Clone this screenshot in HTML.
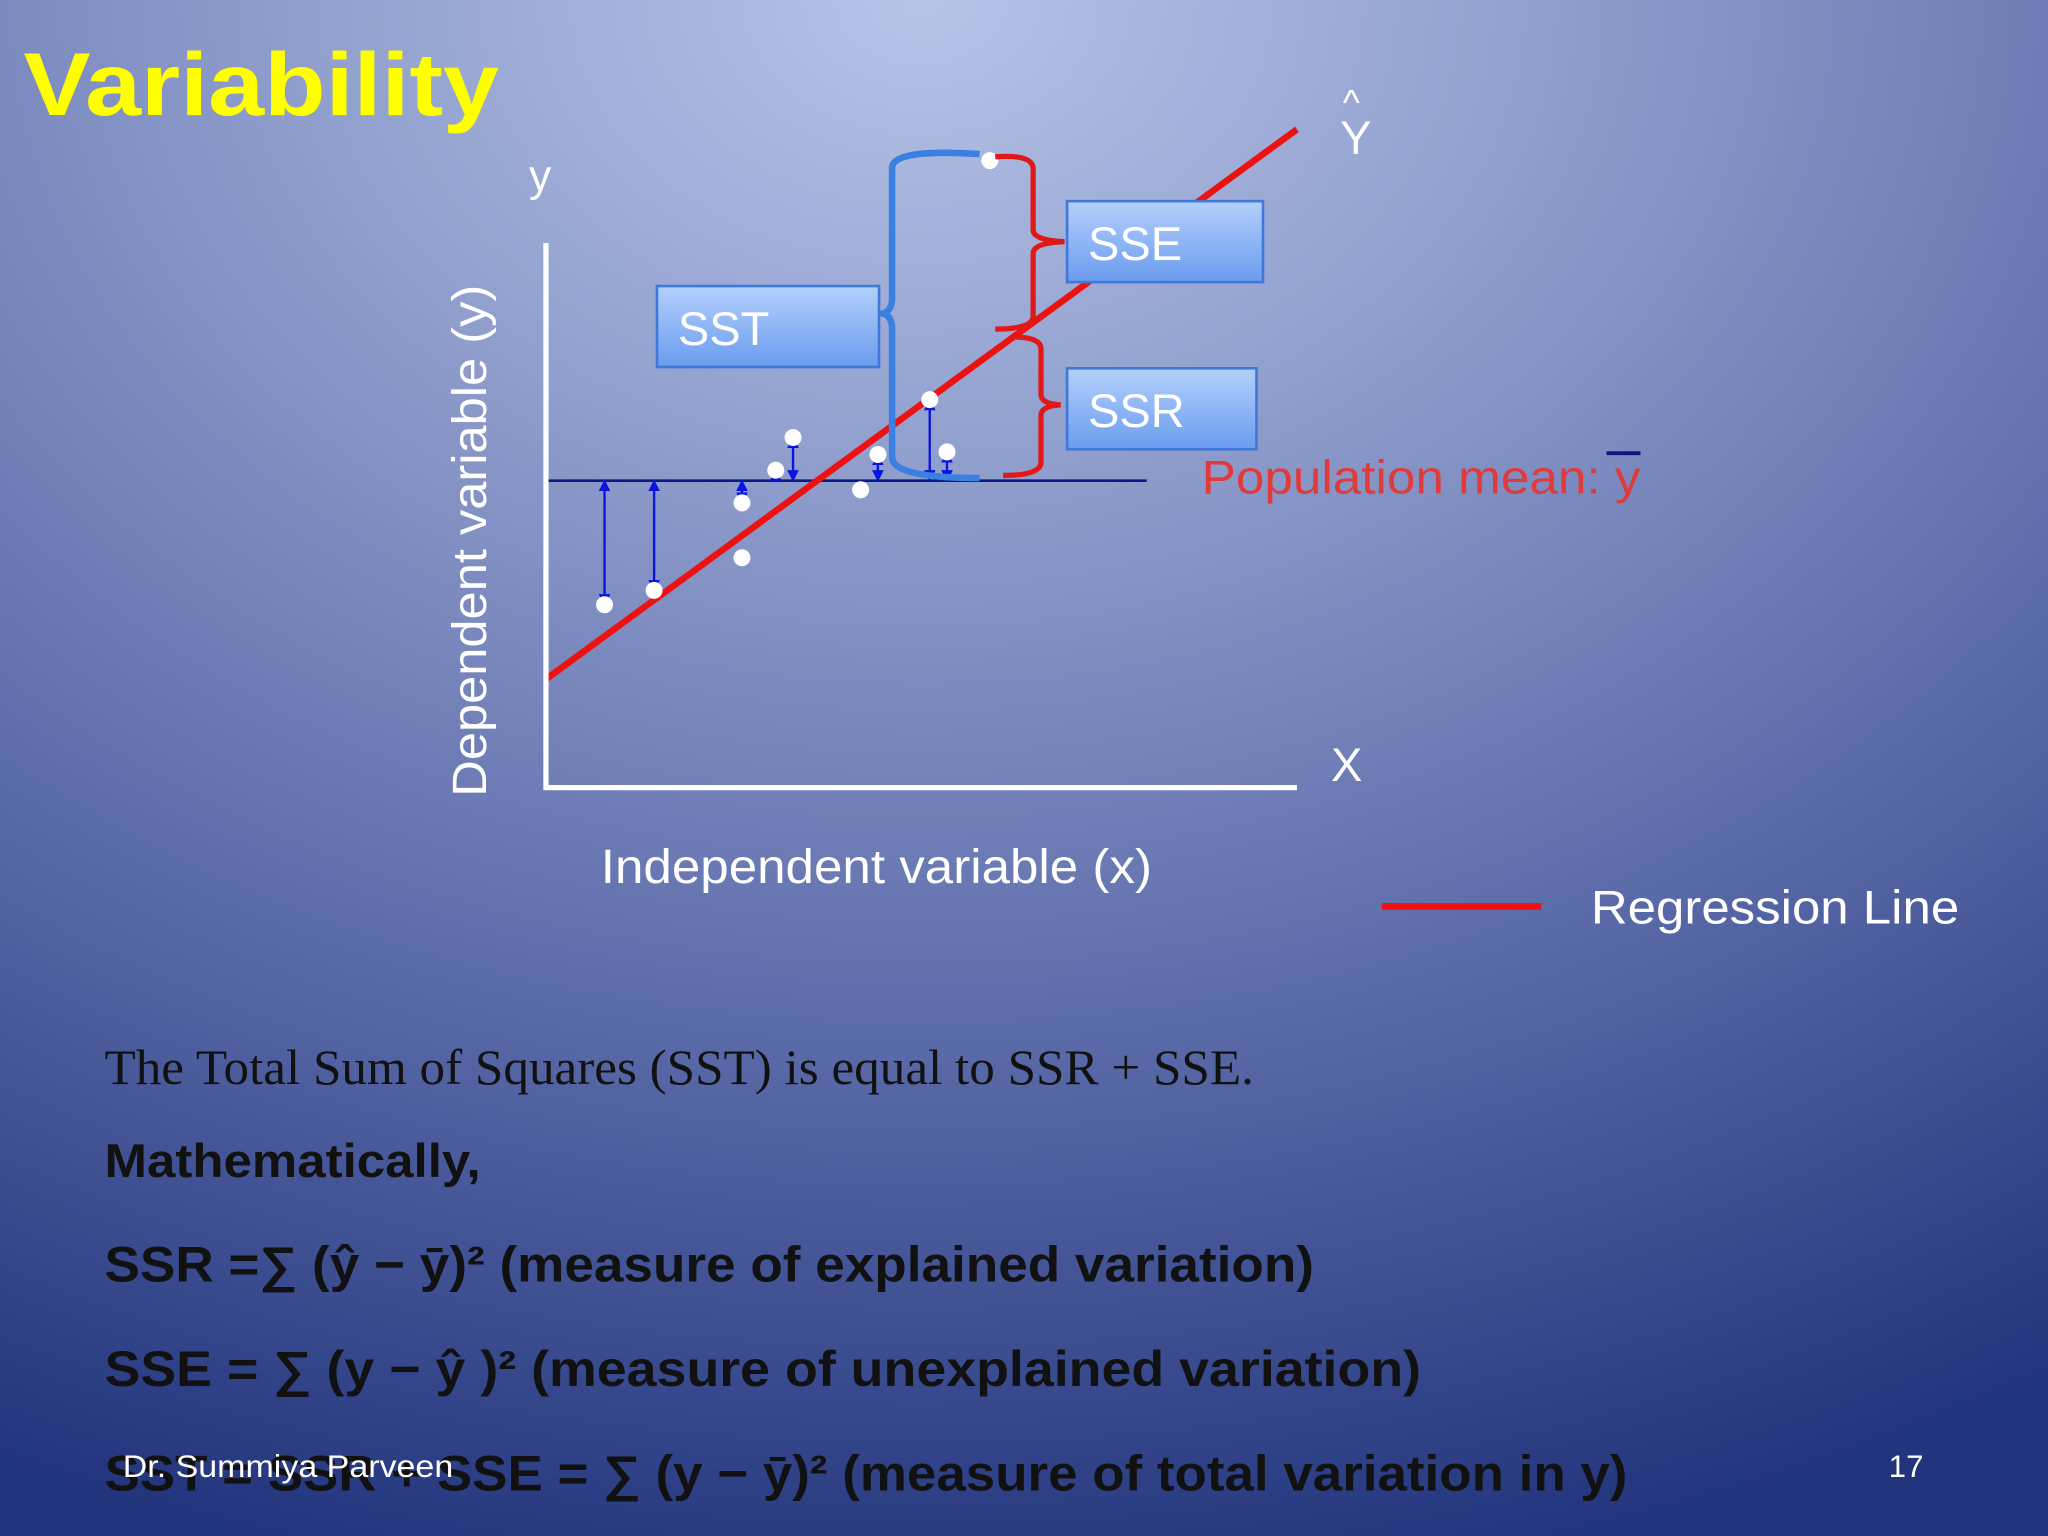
<!DOCTYPE html>
<html><head><meta charset="utf-8"><style>
html,body{margin:0;padding:0;width:2048px;height:1536px;overflow:hidden;background:#3a4e96}
svg{display:block}
text{font-family:"Liberation Sans",sans-serif}
text.serif{font-family:"Liberation Serif",serif}
</style></head><body>
<svg id="chart" width="2048" height="1536" viewBox="0 0 1568 1176" xmlns="http://www.w3.org/2000/svg">
<defs>
<radialGradient id="bg" cx="0.45" cy="0.0" r="1.05">
<stop offset="0" stop-color="#b6c4e8"/>
<stop offset="0.3" stop-color="#8f9dcc"/>
<stop offset="0.65" stop-color="#5a6aa8"/>
<stop offset="1" stop-color="#22347c"/>
</radialGradient>
<linearGradient id="box" x1="0" y1="0" x2="0" y2="1">
<stop offset="0" stop-color="#b4d0fb"/><stop offset="1" stop-color="#6a9cef"/>
</linearGradient>
<marker id="ah" viewBox="0 0 10 10" refX="9" refY="5" markerWidth="5" markerHeight="5" orient="auto-start-reverse"><path d="M0,0L10,5L0,10z" fill="#0a14e0"/></marker>
</defs>
<rect x="0" y="0" width="1568" height="1176" fill="url(#bg)"/>
<text x="18" y="88" font-size="68" font-weight="bold" fill="#ffff00" textLength="364" lengthAdjust="spacingAndGlyphs">Variability</text>

<g id="plot"></g>

<text x="405" y="146" font-size="34" fill="#fff">y</text>
<text transform="translate(372,414) rotate(-90)" text-anchor="middle" font-size="37" fill="#fff" textLength="392" lengthAdjust="spacingAndGlyphs">Dependent variable (y)</text>
<text x="460" y="676" font-size="37" fill="#fff" textLength="422" lengthAdjust="spacingAndGlyphs">Independent variable (x)</text>
<text x="1019" y="598" font-size="36" fill="#fff">X</text>
<text x="1028" y="88" font-size="28" fill="#fff">^</text>
<text x="1026" y="118" font-size="36" fill="#fff">Y</text>
<text x="920" y="378" font-size="36" fill="#e03a3a" textLength="336" lengthAdjust="spacingAndGlyphs">Population mean: y</text>
<line x1="1230" y1="347" x2="1256" y2="347" stroke="#0a1a80" stroke-width="3"/>

<g><rect x="503" y="219" width="170" height="62" fill="url(#box)" stroke="#3f78d8" stroke-width="2"/><text x="519" y="264" font-size="36" fill="#fff">SST</text></g>
<g><rect x="817" y="154" width="150" height="62" fill="url(#box)" stroke="#3f78d8" stroke-width="2"/><text x="833" y="199" font-size="36" fill="#fff">SSE</text></g>
<g><rect x="817" y="282" width="145" height="62" fill="url(#box)" stroke="#3f78d8" stroke-width="2"/><text x="833" y="327" font-size="36" fill="#fff">SSR</text></g>

<line x1="1058" y1="694" x2="1180" y2="694" stroke="#ee1111" stroke-width="5"/>
<text x="1218" y="707" font-size="36" fill="#fff" textLength="282" lengthAdjust="spacingAndGlyphs">Regression Line</text>

<text class="serif" x="80" y="830" font-size="38" fill="#111" textLength="880" lengthAdjust="spacingAndGlyphs">The Total Sum of Squares (SST) is equal to SSR + SSE.</text>
<text x="80" y="901" font-size="36" font-weight="bold" fill="#111" textLength="288" lengthAdjust="spacingAndGlyphs">Mathematically,</text>
<text x="80" y="981" font-size="38" font-weight="bold" fill="#111" textLength="926" lengthAdjust="spacingAndGlyphs">SSR =∑ (ŷ − ȳ)² (measure of explained variation)</text>
<text x="80" y="1061" font-size="38" font-weight="bold" fill="#111" textLength="1008" lengthAdjust="spacingAndGlyphs">SSE = ∑ (y − ŷ )² (measure of unexplained variation)</text>
<text x="80" y="1141" font-size="38" font-weight="bold" fill="#111" textLength="1166" lengthAdjust="spacingAndGlyphs">SST = SSR + SSE = ∑ (y − ȳ)² (measure of total variation in y)</text>
<text x="94" y="1131" font-size="24" fill="#fff" textLength="253" lengthAdjust="spacingAndGlyphs">Dr. Summiya Parveen</text>
<text x="1446" y="1131" font-size="24" fill="#fff">17</text>
</svg>
<script>
const pointX=[0.78,1.44,2.61,2.61,3.06,3.29,4.19,4.42,5.11,5.34,5.91];
const pointY=[2.8,3.02,4.36,3.52,4.86,5.36,4.56,5.1,5.94,5.14,9.6];
const arrowPoints=[0,1,2,4,5,7,8,9];
const meanY=4.7;
const regIntercept=1.66;
const regSlope=0.842;
const xDomain=[0,10];
const NS='http://www.w3.org/2000/svg';
const xs=v=>418+(v-xDomain[0])*57.5;
const ys=v=>603-v*50;
const g=document.getElementById('plot');
function mk(t,a){const e=document.createElementNS(NS,t);for(const k in a)e.setAttribute(k,a[k]);g.appendChild(e);return e;}
let e;
e=mk('line',{x1:xs(0),y1:ys(meanY),x2:xs(8),y2:ys(meanY),stroke:'#0a1a80','stroke-width':2});


arrowPoints.forEach(i=>{
 e=mk('line',{x1:xs(pointX[i]),y1:ys(meanY),x2:xs(pointX[i]),y2:ys(pointY[i]),stroke:'#0a14e0','stroke-width':1.8,'marker-start':'url(#ah)','marker-end':'url(#ah)'});
 
 
});
e=mk('line',{x1:xs(xDomain[0]),y1:ys(regIntercept),x2:xs(xDomain[1]),y2:ys(regIntercept+regSlope*10),stroke:'#ee1111','stroke-width':5});


pointX.forEach((x,i)=>{
 e=mk('circle',{cx:xs(x),cy:ys(pointY[i]),r:6.5,fill:'#fff'});
 
 
});
e=mk('path',{d:'M418,186V603H993',fill:'none',stroke:'#fff','stroke-width':4});


e=mk('path',{d:'M750,118C720,116 684,116 683,128 L683,228 Q683,238 676,240 Q683,242 683,252 L683,350 Q683,366 750,366',fill:'none',stroke:'#3a80e0','stroke-width':5});


e=mk('path',{d:'M762,120 Q792,118 791,130 L791,176 Q791,184 815,185 Q791,186 791,194 L791,242 Q791,252 762,252',fill:'none',stroke:'#e01818','stroke-width':4});


e=mk('path',{d:'M775,258 Q798,258 797,268 L797,302 Q797,309 812,310 Q797,311 797,318 L797,354 Q797,364 768,364',fill:'none',stroke:'#e01818','stroke-width':4});


</script>
</body></html>
